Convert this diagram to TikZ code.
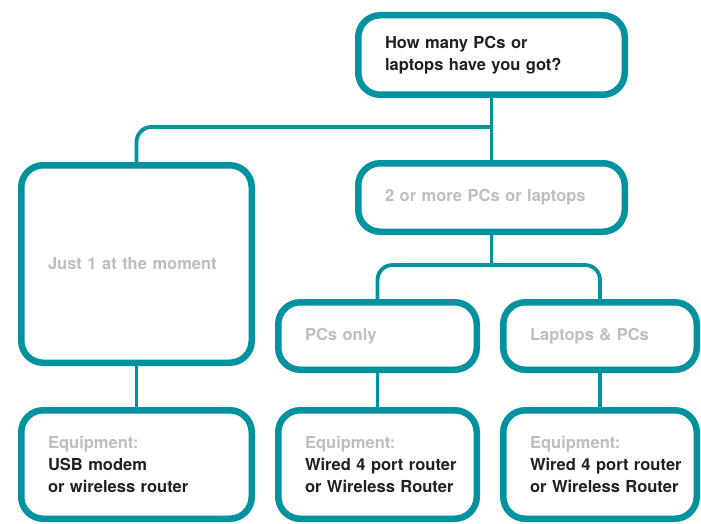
\documentclass[tikz,border=0pt]{standalone}
\usepackage{fontspec}
\setsansfont{TeX Gyre Heros}
\usepackage{xcolor}
\usetikzlibrary{positioning}
\definecolor{petrol}{HTML}{00939F}
\definecolor{mist}{HTML}{BCBEC0}
\definecolor{ink}{HTML}{231F20}

\begin{document}
\begin{tikzpicture}[x=1pt, y=-1pt,
        box/.style={rectangle, draw=petrol, line width=6.5pt, rounded corners=22pt, fill=white,
            inner xsep=26.75pt, inner ysep=0pt, align=left, text=ink,
            font=\sffamily\bfseries\fontsize{16.5}{22}\selectfont},
        quiet/.style={text=mist},
        widebox/.style={minimum width=266.5pt, text width=213pt},
        leftbox/.style={minimum width=230.5pt, text width=177pt},
        halfbox/.style={minimum width=198.5pt, text width=145pt},
        rimbox/.style={minimum width=193.5pt, text width=140pt},
        link/.style={draw=petrol, line width=3.8pt},
        elbow/.style={link, rounded corners=15pt}]
    \useasboundingbox (0, 0) rectangle (701, 524);

    \node[box, widebox, minimum height=79.5pt] (q) at (491.5, 55) {How many PCs or\\laptops have you got?};
    \node[box, widebox, quiet, minimum height=68.5pt] (more) at (491.5, 197.5) {2 or more PCs or laptops};
    \node[box, leftbox, quiet, minimum height=197.5pt] (one) at (136.5, 264) {Just 1 at the moment};
    \node[box, halfbox, quiet, minimum height=67.5pt] (pcs) at (377.5, 336) {PCs only};
    \node[box, rimbox, quiet, minimum height=67.5pt] (lap) at (600, 336) {Laptops \& PCs};
    \node[box, leftbox, minimum height=108.5pt] (eqone) at (136.5, 464.5) {{\color{mist}Equipment:}\\USB modem\\or wireless router};
    \node[box, halfbox, minimum height=108.5pt] (eqpcs) at (377.5, 464.5) {{\color{mist}Equipment:}\\\mbox{Wired 4 port router}\\\mbox{or Wireless Router}};
    \node[box, rimbox, minimum height=108.5pt] (eqlap) at (600, 464.5) {{\color{mist}Equipment:}\\\mbox{Wired 4 port router}\\\mbox{or Wireless Router}};

    \coordinate (fork) at (491.5, 127);
    \coordinate (split) at (491.5, 265);

    \draw[link] (q.south) -- (more.north);
    \draw[elbow] (fork) -| (one.north);
    \draw[link] (more.south) -- (split);
    \draw[elbow] (pcs.north) |- (split) -| (lap.north);
    \draw[link] (one.south) -- (eqone.north);
    \draw[link] (pcs.south) -- (eqpcs.north);
    \draw[link] (lap.south) -- (eqlap.north);
\end{tikzpicture}
\end{document}
